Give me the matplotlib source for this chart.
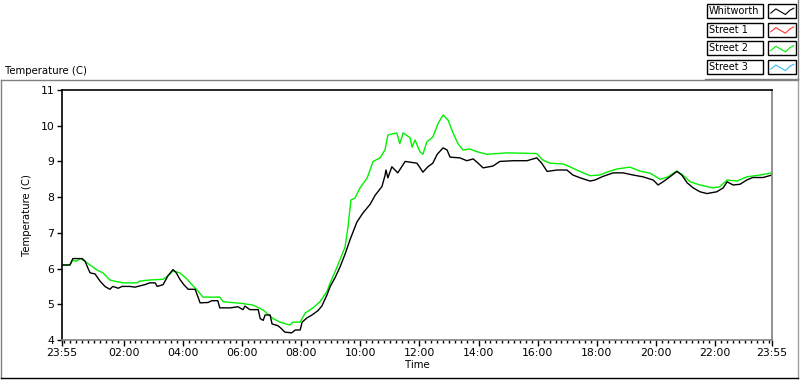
#!/usr/bin/env python3
"""Daily temperature trace: Whitworth vs the street sensors."""
import matplotlib
matplotlib.use("Agg")
import matplotlib.pyplot as plt
from matplotlib.patches import Rectangle
from matplotlib.lines import Line2D

# minutes after 23:55 (start of the logged day)
whitworth_min = [0, 16, 22, 41, 47, 53, 57, 67, 77, 87, 97, 103, 114, 122, 138, 148, 168, 178,
                 189, 193, 205, 215, 225, 231, 239, 247, 256, 270, 276, 280, 296, 304, 316, 320,
                 341, 357, 367, 371, 381, 398, 402, 408, 412, 422, 426, 438, 444, 452, 466, 473,
                 483, 487, 497, 507, 519, 527, 537, 544, 554, 564, 574, 584, 598, 610, 625, 635,
                 649, 655, 657, 661, 669, 681, 696, 720, 732, 742, 752, 761, 773, 781, 787, 807,
                 821, 834, 844, 854, 874, 888, 915, 943, 963, 973, 984, 1004, 1024, 1036, 1051,
                 1071, 1081, 1097, 1118, 1138, 1158, 1178, 1199, 1209, 1219, 1233, 1247, 1257,
                 1268, 1280, 1294, 1308, 1328, 1341, 1349, 1361, 1375, 1389, 1401, 1422, 1440]
whitworth_temp = [6.1, 6.1, 6.28, 6.28, 6.2, 6.0, 5.88, 5.85, 5.65, 5.5, 5.42, 5.5, 5.45, 5.5,
                  5.5, 5.48, 5.55, 5.6, 5.6, 5.5, 5.55, 5.8, 5.97, 5.9, 5.7, 5.55, 5.42, 5.42,
                  5.2, 5.04, 5.05, 5.1, 5.1, 4.9, 4.9, 4.93, 4.85, 4.95, 4.85, 4.85, 4.6, 4.55,
                  4.7, 4.7, 4.45, 4.4, 4.33, 4.22, 4.2, 4.28, 4.28, 4.5, 4.62, 4.7, 4.82, 4.95,
                  5.25, 5.5, 5.75, 6.05, 6.4, 6.8, 7.3, 7.55, 7.8, 8.05, 8.3, 8.6, 8.76, 8.54,
                  8.85, 8.68, 9.0, 8.95, 8.7, 8.85, 8.95, 9.2, 9.38, 9.32, 9.12, 9.1, 9.02, 9.07,
                  8.95, 8.82, 8.87, 9.0, 9.02, 9.02, 9.1, 8.95, 8.72, 8.76, 8.76, 8.62, 8.54,
                  8.45, 8.48, 8.58, 8.68, 8.68, 8.62, 8.57, 8.48, 8.34, 8.43, 8.57, 8.72, 8.62,
                  8.4, 8.26, 8.15, 8.1, 8.15, 8.26, 8.43, 8.34, 8.36, 8.48, 8.55, 8.55, 8.62]

street2_min = [0, 16, 22, 28, 37, 47, 57, 71, 83, 97, 112, 124, 152, 158, 178, 205, 215, 225,
               239, 254, 260, 274, 286, 320, 327, 361, 387, 408, 428, 442, 462, 468, 483, 493,
               509, 523, 537, 544, 558, 574, 580, 586, 594, 604, 619, 631, 645, 655, 661, 679,
               685, 692, 706, 710, 716, 726, 732, 740, 752, 763, 773, 783, 793, 803, 813, 827,
               842, 862, 903, 963, 975, 990, 1016, 1030, 1044, 1057, 1071, 1091, 1105, 1126,
               1152, 1172, 1193, 1213, 1229, 1247, 1259, 1274, 1294, 1320, 1334, 1349, 1369,
               1389, 1416, 1440]
street2_temp = [6.1, 6.1, 6.24, 6.2, 6.28, 6.2, 6.1, 5.96, 5.88, 5.68, 5.63, 5.6, 5.6, 5.65,
                5.68, 5.7, 5.8, 5.93, 5.88, 5.7, 5.6, 5.4, 5.2, 5.2, 5.07, 5.03, 4.98, 4.84,
                4.6, 4.5, 4.42, 4.5, 4.5, 4.75, 4.9, 5.07, 5.35, 5.6, 6.05, 6.6, 7.16, 7.92,
                7.97, 8.25, 8.54, 9.0, 9.1, 9.32, 9.74, 9.8, 9.5, 9.8, 9.66, 9.4, 9.6, 9.27,
                9.2, 9.55, 9.68, 10.07, 10.3, 10.16, 9.8, 9.5, 9.32, 9.35, 9.27, 9.2, 9.24,
                9.22, 9.04, 8.95, 8.93, 8.85, 8.76, 8.68, 8.6, 8.62, 8.7, 8.79, 8.84, 8.73,
                8.67, 8.5, 8.57, 8.73, 8.62, 8.43, 8.34, 8.26, 8.29, 8.48, 8.45, 8.57, 8.62,
                8.68]

legend_names = ["Whitworth", "Street 1", "Street 2", "Street 3"]
legend_colors = ["#000000", "#ff3333", "#00f000", "#33bbff"]

tick_min = [0, 125, 245, 365, 485, 605, 725, 845, 965, 1085, 1205, 1325, 1440]
tick_labels = ["23:55", "02:00", "04:00", "06:00", "08:00", "10:00", "12:00",
               "14:00", "16:00", "18:00", "20:00", "22:00", "23:55"]
minor_min = list(range(5, 1440, 12))
y_ticks = [4, 5, 6, 7, 8, 9, 10, 11]

W, H = 800, 380
plt.rcParams["font.family"] = "DejaVu Sans"
fig = plt.figure(figsize=(W / 100, H / 100), dpi=100)


def fx(px):
    return px / W


def fy(py):
    return 1 - py / H


# outer chart frame
fig.add_artist(Line2D([fx(1), fx(798)], [fy(80), fy(80)], color="#808080", lw=1))
fig.add_artist(Line2D([fx(1), fx(1)], [fy(80), fy(378)], color="#808080", lw=1))
fig.add_artist(Line2D([fx(798), fx(798)], [fy(80), fy(378)], color="#a0a0a0", lw=1))
fig.add_artist(Line2D([fx(1), fx(798)], [fy(378), fy(378)], color="#000000", lw=1))
fig.text(fx(5), fy(71), "Temperature (C)", fontsize=7.3, va="center", ha="left")

ax = fig.add_axes([fx(62), fy(340), fx(772) - fx(62), fy(90) - fy(340)])
ax.plot(street2_min, street2_temp, color=legend_colors[2], lw=1)
ax.plot(whitworth_min, whitworth_temp, color=legend_colors[0], lw=1)

ax.set_xlim(0, 1440)
ax.set_ylim(4, 11)
ax.set_xticks(tick_min)
ax.set_xticklabels(tick_labels)
ax.set_xticks(minor_min, minor=True)
ax.set_yticks(y_ticks)
ax.tick_params(axis="x", which="major", length=4, width=1, pad=2, labelsize=7.8)
ax.tick_params(axis="x", which="minor", length=2.5, width=1)
ax.tick_params(axis="y", length=3.5, width=1, pad=2, labelsize=7.8)
for side in ("left", "top"):
    ax.spines[side].set_color("black")
    ax.spines[side].set_linewidth(1.2)
for side in ("bottom", "right"):
    ax.spines[side].set_color("#808080")
    ax.spines[side].set_linewidth(1.2)
ax.set_xlabel("Time", fontsize=7.3, labelpad=1)
ax.set_ylabel("Temperature (C)", fontsize=7.3, labelpad=6)

# legend: name box + sample box per plot
zig_x = [0.1, 0.28, 0.45, 0.62, 0.78, 0.92]
zig_y = [0.35, 0.65, 0.45, 0.25, 0.55, 0.7]
for i, (name, col) in enumerate(zip(legend_names, legend_colors)):
    top = 4 + i * 18.7
    fig.add_artist(Rectangle((fx(707), fy(top + 14)), fx(56), fy(0) - fy(14),
                             fill=False, ec="black", lw=1))
    fig.text(fx(709), fy(top + 7), name, fontsize=7, va="center", ha="left")
    fig.add_artist(Rectangle((fx(768), fy(top + 14)), fx(28), fy(0) - fy(14),
                             fill=False, ec="black", lw=1))
    fig.add_artist(Line2D([fx(768 + 28 * v) for v in zig_x],
                          [fy(top + 14 - 14 * v) for v in zig_y], color=col, lw=0.8))
fig.add_artist(Line2D([fx(705), fx(798)], [fy(79), fy(79)], color="#808080", lw=1))
fig.add_artist(Line2D([fx(798), fx(798)], [fy(0), fy(79)], color="#808080", lw=1))

fig.savefig("out.png", dpi=100)
